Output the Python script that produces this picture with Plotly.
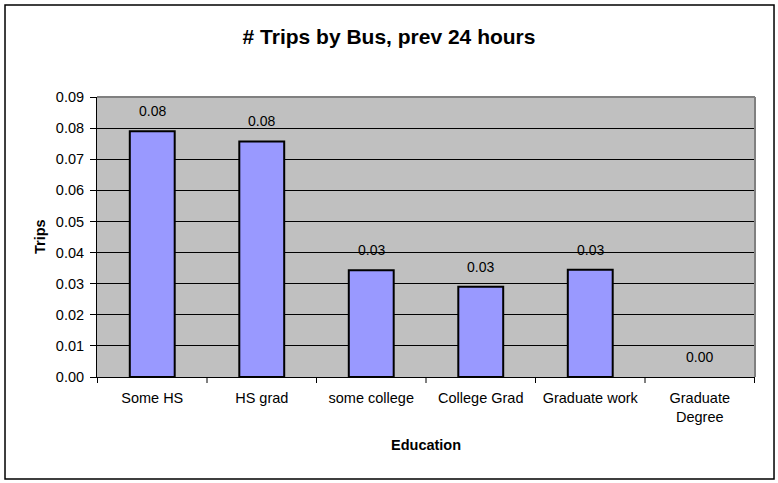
import plotly.graph_objects as go

categories = ["Some HS", "HS grad", "some college", "College Grad", "Graduate work", "Graduate<br>Degree"]
trips = [0.079, 0.0757, 0.0343, 0.029, 0.0345, 0.0]
y_ticks = [0.00, 0.01, 0.02, 0.03, 0.04, 0.05, 0.06, 0.07, 0.08, 0.09]
title_text = "# Trips by Bus, prev 24 hours"
x_title = "Education"
y_title = "Trips"

FONT = "Liberation Sans, Arial, sans-serif"

fig = go.Figure()
fig.add_trace(go.Bar(
    x=categories, y=trips,
    marker=dict(color="#9999FF",
                line=dict(color="#000000", width=[2 if v > 0 else 0 for v in trips])),
    hoverinfo="skip",
))

for c, v in zip(categories, trips):
    fig.add_annotation(x=c, y=v, text=f"{v:.2f}", showarrow=False,
                       yanchor="middle", yshift=20,
                       font=dict(family=FONT, size=14, color="#000000"))

# axis titles
fig.add_annotation(xref="paper", yref="paper", x=0.5, y=-0.243, text=f"<b>{x_title}</b>",
                   showarrow=False, xanchor="center", yanchor="middle",
                   font=dict(family=FONT, size=14.5, color="#000000"))
fig.add_annotation(xref="paper", yref="paper", x=-0.0866, y=0.5, text=f"<b>{y_title}</b>",
                   showarrow=False, xanchor="center", yanchor="middle", textangle=-90,
                   font=dict(family=FONT, size=14.5, color="#000000"))

# outer chart border
fig.add_shape(type="rect", xref="paper", yref="paper",
              x0=-0.1398, x1=1.0289, y0=-0.3643, y1=1.3286,
              line=dict(color="#000000", width=1.5), fillcolor="rgba(0,0,0,0)", layer="above")

fig.update_layout(
    width=778, height=483,
    margin=dict(l=97, r=23, t=97, b=106),
    paper_bgcolor="#FFFFFF",
    plot_bgcolor="#C0C0C0",
    bargap=0.59,
    showlegend=False,
    title=dict(text=f"<b>{title_text}</b>", x=0.5, xref="container", xanchor="center",
               y=1 - 37 / 483, yanchor="middle",
               font=dict(family=FONT, size=21, color="#000000")),
    font=dict(family=FONT, size=14, color="#000000"),
)

fig.update_xaxes(
    showgrid=False, showline=True, linecolor="#000000", linewidth=1,
    mirror=False, ticks="", tickfont=dict(family=FONT, size=14.5, color="#000000"),
    ticklabelstandoff=8,
)
fig.update_yaxes(
    range=[0, 0.09], tickvals=y_ticks, tickformat=".2f",
    showgrid=True, gridcolor="#000000", gridwidth=1,
    showline=True, linecolor="#000000", linewidth=1,
    ticks="outside", ticklen=6, tickcolor="#000000",
    tickfont=dict(family=FONT, size=14.5, color="#000000"),
    zeroline=False, ticklabelstandoff=3,
)

# x-axis tick marks between categories
for i in range(len(categories) + 1):
    fig.add_shape(type="line", xref="x", yref="paper", x0=i - 0.5, x1=i - 0.5,
                  y0=0, y1=-6 / 280, line=dict(color="#000000", width=1))

# plot area gray border (top/right)
fig.add_shape(type="line", xref="paper", yref="paper", x0=0, x1=1, y0=1, y1=1,
              line=dict(color="#808080", width=2))
fig.add_shape(type="line", xref="paper", yref="paper", x0=1, x1=1, y0=0, y1=1,
              line=dict(color="#808080", width=2))

fig.write_html("out.html",
               config={"displayModeBar": False},
               post_script="document.body.style.margin='0';document.body.style.padding='0';")
